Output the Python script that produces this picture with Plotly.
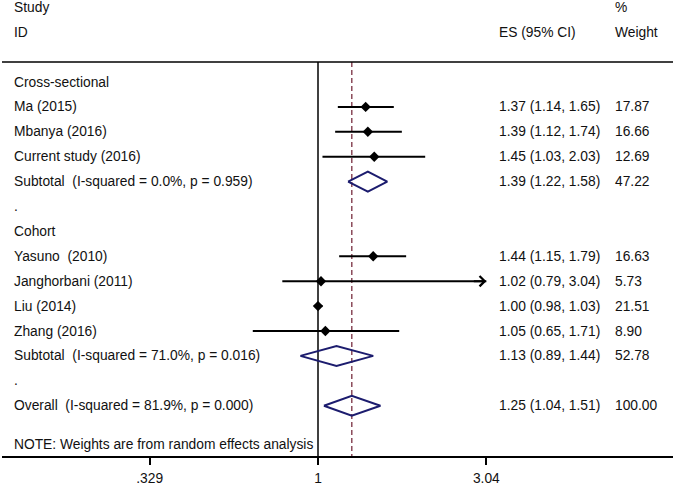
import math
import plotly.graph_objects as go

# ---------------- data ----------------
row_labels = ["Cross-sectional", "Ma (2015)", "Mbanya (2016)", "Current study (2016)",
              "Subtotal\u00a0\u00a0(I-squared = 0.0%, p = 0.959)", ".", "Cohort",
              "Yasuno\u00a0\u00a0(2010)", "Janghorbani (2011)", "Liu (2014)", "Zhang (2016)",
              "Subtotal\u00a0\u00a0(I-squared = 71.0%, p = 0.016)", ".",
              "Overall\u00a0\u00a0(I-squared = 81.9%, p = 0.000)"]

study_rows = [1, 2, 3, 7, 8, 9, 10]
study_es = [1.37, 1.39, 1.45, 1.44, 1.02, 1.00, 1.05]
study_lo = [1.14, 1.12, 1.03, 1.15, 0.79, 0.98, 0.65]
study_hi = [1.65, 1.74, 2.03, 1.79, 3.04, 1.03, 1.71]
study_w = ["17.87", "16.66", "12.69", "16.63", "5.73", "21.51", "8.90"]

pool_rows = [4, 11, 13]
pool_es = [1.39, 1.13, 1.25]
pool_lo = [1.22, 0.89, 1.04]
pool_hi = [1.58, 1.44, 1.51]
pool_w = ["47.22", "52.78", "100.00"]

tick_vals = [0.329, 1, 3.04]
tick_text = [".329", "1", "3.04"]
axis_max = 3.04
overall_es = 1.25

# ---------------- layout constants ----------------
W, H = 675, 486
ML, MR, MT, MB = 2, 2, 0, 30
PW = W - ML - MR
X_LEFT_LOG, X_RIGHT_LOG = -0.9065, 1.0184
Y_TOP, Y_BOT = -3.293, 15.02
LINE_TOP = -0.8
FONT = "Liberation Sans, Arial, sans-serif"
FS = 13.8
TXT = "#111111"
NAVY = "#1c1c6e"


def px(p):
    return (p - ML) / PW


fig = go.Figure()

# reference lines
fig.add_trace(go.Scatter(x=[1, 1], y=[LINE_TOP, Y_BOT], mode="lines",
                         line=dict(color="black", width=1.5), hoverinfo="skip"))
fig.add_trace(go.Scatter(x=[overall_es, overall_es], y=[LINE_TOP, Y_BOT], mode="lines",
                         line=dict(color="#8b4a5a", width=1.5, dash="5px,3px"), hoverinfo="skip"))

# CI lines
for r, lo, hi in zip(study_rows, study_lo, study_hi):
    fig.add_trace(go.Scatter(x=[lo, hi], y=[r, r], mode="lines",
                             line=dict(color="black", width=2), hoverinfo="skip"))

# point estimates
fig.add_trace(go.Scatter(x=study_es, y=study_rows, mode="markers",
                         marker=dict(symbol="diamond", size=8, color="black"), hoverinfo="skip"))

# pooled diamonds
for r, es, lo, hi in zip(pool_rows, pool_es, pool_lo, pool_hi):
    fig.add_trace(go.Scatter(x=[lo, es, hi, es, lo], y=[r, r - 0.4, r, r + 0.4, r],
                             mode="lines", line=dict(color=NAVY, width=2), hoverinfo="skip"))

ann = []
# arrow for truncated CI
for r, hi in zip(study_rows, study_hi):
    if hi >= axis_max:
        ann.append(dict(x=math.log10(hi), y=r, xref="x", yref="y", ax=-14, ay=0,
                        axref="pixel", ayref="pixel", text="", showarrow=True,
                        arrowhead=4, arrowsize=1.0, arrowwidth=2, arrowcolor="black"))

# header texts
def txt(xp, yv, s):
    ann.append(dict(x=px(xp), y=yv, xref="paper", yref="y", text=s, showarrow=False,
                    xanchor="left", yanchor="middle", borderpad=0,
                    font=dict(family=FONT, size=FS, color=TXT)))

txt(13, -3.01, "Study")
txt(13, -2.0, "ID")
txt(498, -2.0, "ES (95% CI)")
txt(614, -3.01, "%")
txt(614, -2.0, "Weight")

for i, lab in enumerate(row_labels):
    txt(13, i, lab)

for r, es, lo, hi, w in zip(study_rows, study_es, study_lo, study_hi, study_w):
    txt(498, r, f"{es:.2f} ({lo:.2f}, {hi:.2f})")
    txt(614, r, w)
for r, es, lo, hi, w in zip(pool_rows, pool_es, pool_lo, pool_hi, pool_w):
    txt(498, r, f"{es:.2f} ({lo:.2f}, {hi:.2f})")
    txt(614, r, w)

txt(13, 14.54, "NOTE: Weights are from random effects analysis")

fig.update_layout(
    width=W, height=H, margin=dict(l=ML, r=MR, t=MT, b=MB),
    paper_bgcolor="white", plot_bgcolor="white", showlegend=False,
    annotations=ann,
    shapes=[dict(type="line", xref="paper", yref="y", x0=0, x1=1, y0=LINE_TOP, y1=LINE_TOP,
                 line=dict(color="black", width=1.5))],
    xaxis=dict(type="log", range=[X_LEFT_LOG, X_RIGHT_LOG], showgrid=False, zeroline=False,
               automargin=False,
               showline=True, linecolor="black", linewidth=1.5,
               ticks="outside", ticklen=7, tickwidth=1.5, tickcolor="black",
               tickvals=tick_vals, ticktext=tick_text, ticklabelstandoff=2,
               tickfont=dict(family=FONT, size=FS, color=TXT)),
    yaxis=dict(range=[Y_BOT, Y_TOP], visible=False, showgrid=False, zeroline=False,
               automargin=False),
)

fig.write_html("out.html", config={"displayModeBar": False},
               post_script="document.body.style.margin='0px';document.body.style.overflow='hidden';")
